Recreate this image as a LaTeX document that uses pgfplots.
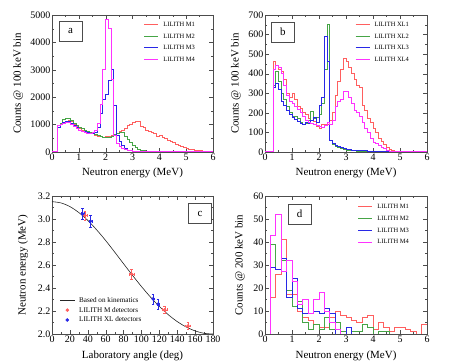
\documentclass[border=0pt]{standalone}
\usepackage{fontspec}
\setmainfont{Liberation Serif}
\usepackage{pgfplots}
\pgfplotsset{compat=1.18}

\definecolor{lilR}{RGB}{255,95,95}
\definecolor{lilG}{RGB}{70,165,70}
\definecolor{lilB}{RGB}{40,40,230}
\definecolor{lilP}{RGB}{255,50,255}

\tikzset{
  plabel/.style={draw=black!70, line width=0.8bp, minimum width=23bp, minimum height=20bp,
    inner sep=0pt, fill=white, font=\fontsize{11}{12}\selectfont},
}
\pgfplotsset{
  panel/.style={
    scale only axis, width=161bp, height=137bp,
    axis line style={draw=black!70}, tick style={black!70},
    tick align=inside, major tick length=4bp, minor tick length=2bp,
    minor x tick num=1, minor y tick num=1,
    tick label style={font=\fontsize{10}{12}\selectfont, inner sep=1.5bp},
    every axis label/.append style={font=\fontsize{11}{13}\selectfont},
    /pgf/number format/assume math mode=true,
    /pgf/number format/1000 sep={},
    xlabel style={at={(axis description cs:0.5,-0.155)}, anchor=center},
    legend cell align=left,
    legend image code/.code={\draw[#1,mark repeat=2,mark phase=2] plot coordinates {(0bp,0bp) (7bp,0bp) (14bp,0bp)};},
    legend style={draw=none, fill=none, inner sep=0pt, outer sep=0pt,
      font=\fontsize{6.5}{7}\selectfont, column sep=4.5bp, row sep=5bp,
      nodes={inner sep=0pt, text height=5.2bp, text depth=1.5bp}},
  },
  hist/.style={const plot mark left, no marks, line width=1bp},
}

\begin{document}
\begin{tikzpicture}
% ---------- a ----------
\begin{axis}[panel, at={(52bp,212bp)}, anchor=south west,
  xmin=0, xmax=6, ymin=0, ymax=5000, xtick distance=1, ytick distance=1000,
  xlabel={Neutron energy (MeV)}, ylabel={Counts @ 100 keV bin},
  ylabel style={at={(axis description cs:-0.21,0.5)}, anchor=center},
  legend style={at={(0.571,0.955)}, anchor=north west}]
\addplot[hist, draw=lilR] coordinates {(0,0)(0.2,950)(0.3,1000)(0.4,1080)(0.5,1130)(0.6,1150)(0.7,1100)(0.8,1000)(0.9,920)(1.0,860)(1.1,800)(1.2,760)(1.3,720)(1.4,690)(1.5,660)(1.6,620)(1.7,580)(1.8,550)(1.9,540)(2.0,560)(2.1,580)(2.2,610)(2.3,640)(2.4,680)(2.5,730)(2.6,800)(2.7,870)(2.8,950)(2.9,1000)(3.0,1080)(3.1,1100)(3.2,1110)(3.3,920)(3.4,900)(3.5,800)(3.6,750)(3.7,720)(3.8,680)(3.9,580)(4.0,590)(4.1,540)(4.2,500)(4.3,420)(4.4,380)(4.5,330)(4.6,280)(4.7,240)(4.8,200)(4.9,160)(5.0,130)(5.1,100)(5.2,80)(5.3,60)(5.4,50)(5.5,40)(5.6,30)(5.7,25)(5.8,20)(5.9,15)(6.0,15)};
\addlegendentry{LILITH M1}
\addplot[hist, draw=lilG] coordinates {(0,0)(0.2,900)(0.3,1050)(0.4,1180)(0.5,1240)(0.6,1230)(0.7,1150)(0.8,1050)(0.9,950)(1.0,890)(1.1,840)(1.2,800)(1.3,760)(1.4,720)(1.5,690)(1.6,650)(1.7,600)(1.8,560)(1.9,530)(2.0,520)(2.1,540)(2.2,580)(2.3,630)(2.4,680)(2.5,720)(2.6,700)(2.7,560)(2.8,450)(2.9,330)(3.0,220)(3.1,150)(3.2,100)(3.3,70)(3.4,50)(3.5,35)(3.6,25)(3.7,15)(3.8,10)(3.9,8)(4.0,5)(4.1,3)(4.2,2)(4.3,0)(6.0,0)};
\addlegendentry{LILITH M2}
\addplot[hist, draw=lilB] coordinates {(0,0)(0.2,880)(0.3,1000)(0.4,1080)(0.5,1120)(0.6,1100)(0.7,1050)(0.8,950)(0.9,880)(1.0,800)(1.1,760)(1.2,740)(1.3,720)(1.4,690)(1.5,680)(1.6,720)(1.7,900)(1.8,1400)(1.9,1900)(2.0,2100)(2.1,2600)(2.2,3000)(2.3,1700)(2.4,600)(2.5,380)(2.6,230)(2.7,130)(2.8,70)(2.9,40)(3.0,20)(3.1,12)(3.2,8)(3.3,5)(3.4,0)(6.0,0)};
\addlegendentry{LILITH M3}
\addplot[hist, draw=lilP] coordinates {(0,0)(0.2,950)(0.3,1000)(0.4,1050)(0.5,1080)(0.6,1060)(0.7,1000)(0.8,920)(0.9,850)(1.0,790)(1.1,740)(1.2,710)(1.3,690)(1.4,680)(1.5,720)(1.6,800)(1.7,1050)(1.8,1750)(1.9,3000)(2.0,4850)(2.1,4500)(2.2,2650)(2.3,600)(2.4,320)(2.5,200)(2.6,130)(2.7,90)(2.8,60)(2.9,40)(3.0,25)(3.1,15)(3.2,10)(3.3,0)(6.0,0)};
\addlegendentry{LILITH M4}
\node[plabel] at (rel axis cs:0.115,0.883) {a};
\end{axis}
% ---------- b ----------
\begin{axis}[panel, at={(265bp,212bp)}, anchor=south west, width=162bp,
  xmin=0, xmax=6, ymin=0, ymax=700, xtick distance=1, ytick distance=100,
  xlabel={Neutron energy (MeV)}, ylabel={Counts @ 100 keV bin},
  ylabel style={at={(axis description cs:-0.18,0.5)}, anchor=center},
  legend style={at={(0.556,0.955)}, anchor=north west}]
\addplot[hist, draw=lilR] coordinates {(0,0)(0.3,460)(0.4,440)(0.5,420)(0.6,410)(0.7,370)(0.8,300)(0.9,280)(1.0,300)(1.1,270)(1.2,230)(1.3,220)(1.4,200)(1.5,190)(1.6,170)(1.7,160)(1.8,155)(1.9,130)(2.0,120)(2.1,140)(2.2,140)(2.3,140)(2.4,160)(2.5,200)(2.6,290)(2.7,360)(2.8,420)(2.9,480)(3.0,460)(3.1,430)(3.2,400)(3.3,370)(3.4,340)(3.5,330)(3.6,240)(3.7,210)(3.8,170)(3.9,150)(4.0,120)(4.1,100)(4.2,70)(4.3,55)(4.4,40)(4.5,25)(4.6,15)(4.7,10)(4.8,5)(4.9,3)(5.0,0)(6.0,0)};
\addlegendentry{LILITH XL1}
\addplot[hist, draw=lilG] coordinates {(0,0)(0.3,340)(0.4,410)(0.5,360)(0.6,300)(0.7,270)(0.8,230)(0.9,200)(1.0,180)(1.1,180)(1.2,170)(1.3,150)(1.4,140)(1.5,145)(1.6,160)(1.7,205)(1.8,170)(1.9,175)(2.0,190)(2.1,250)(2.2,420)(2.3,650)(2.4,60)(2.5,40)(2.6,30)(2.7,25)(2.8,20)(2.9,15)(3.0,10)(3.2,8)(3.4,5)(3.6,3)(3.8,2)(4.0,0)(6.0,0)};
\addlegendentry{LILITH XL2}
\addplot[hist, draw=lilB] coordinates {(0,0)(0.3,330)(0.4,350)(0.5,320)(0.6,260)(0.7,240)(0.8,210)(0.9,190)(1.0,175)(1.1,165)(1.2,155)(1.3,145)(1.4,140)(1.5,150)(1.6,145)(1.7,160)(1.8,175)(1.9,150)(2.0,240)(2.1,280)(2.2,590)(2.3,460)(2.4,60)(2.5,45)(2.6,35)(2.7,28)(2.8,22)(2.9,18)(3.0,14)(3.2,10)(3.4,8)(3.6,6)(3.8,4)(4.0,3)(4.3,2)(4.6,0)(6.0,0)};
\addlegendentry{LILITH XL3}
\addplot[hist, draw=lilP] coordinates {(0,0)(0.3,420)(0.4,440)(0.5,430)(0.6,400)(0.7,340)(0.8,290)(0.9,260)(1.0,250)(1.1,230)(1.2,215)(1.3,200)(1.4,180)(1.5,160)(1.6,150)(1.7,145)(1.8,140)(1.9,135)(2.0,130)(2.1,125)(2.2,135)(2.3,150)(2.4,140)(2.5,160)(2.6,230)(2.7,260)(2.8,270)(2.9,310)(3.0,310)(3.1,280)(3.2,250)(3.3,210)(3.4,200)(3.5,180)(3.6,150)(3.7,120)(3.8,100)(3.9,70)(4.0,50)(4.1,45)(4.2,35)(4.3,25)(4.4,20)(4.5,10)(4.6,5)(4.7,0)(6.0,0)};
\addlegendentry{LILITH XL4}
\node[plabel] at (rel axis cs:0.111,0.876) {b};
\end{axis}
% ---------- c ----------
\begin{axis}[panel, at={(52bp,30bp)}, anchor=south west, height=138bp,
  xmin=0, xmax=180, ymin=2, ymax=3.2, xtick distance=20,
  ytick={2.0,2.2,2.4,2.6,2.8,3.0,3.2},
  yticklabel style={/pgf/number format/.cd, fixed, fixed zerofill, precision=1},
  xlabel={Laboratory angle (deg)}, ylabel={Neutron energy (MeV)},
  ylabel style={at={(axis description cs:-0.18,0.5)}, anchor=center},
  legend style={at={(0.05,0.075)}, anchor=south west, font=\fontsize{7.2}{8}\selectfont,
    row sep=2.6bp, nodes={inner sep=0pt, text height=5.6bp, text depth=1.7bp}}]
\addplot[black!85, line width=0.6bp, smooth] coordinates {(0,3.151)(10,3.140)(20,3.108)(30,3.056)(40,2.988)(50,2.905)(60,2.813)(70,2.713)(80,2.611)(90,2.510)(100,2.413)(110,2.322)(120,2.240)(130,2.168)(140,2.108)(150,2.061)(160,2.027)(170,2.006)(180,2.000)};
\addlegendentry{Based on kinematics}
\addplot[only marks, mark=*, mark size=1.4bp, lilR, line width=0.7bp,
  error bars/.cd, x dir=both, x explicit, y dir=both, y explicit]
  coordinates {(36.8,3.03) +- (3,0.04) (89,2.52) +- (3,0.04) (126,2.21) +- (3,0.03) (152,2.07) +- (3,0.03)};
\addlegendentry{LILITH M detectors}
\addplot[only marks, mark=*, mark size=1.4bp, lilB, line width=0.7bp,
  error bars/.cd, x dir=both, x explicit, y dir=both, y explicit]
  coordinates {(34.2,3.045) +- (1.5,0.05) (43.1,2.98) +- (1.5,0.05) (113,2.305) +- (1.5,0.045) (118.6,2.26) +- (1.5,0.04)};
\addlegendentry{LILITH XL detectors}
\node[plabel] at (rel axis cs:0.919,0.873) {c};
\end{axis}
% ---------- d ----------
\begin{axis}[panel, at={(265bp,30bp)}, anchor=south west, width=162bp, height=138bp,
  xmin=0, xmax=6, ymin=0, ymax=60, xtick distance=1, ytick distance=10,
  xlabel={Neutron energy (MeV)}, ylabel={Counts @ 200 keV bin},
  ylabel style={at={(axis description cs:-0.155,0.5)}, anchor=center},
  legend style={at={(0.574,0.945)}, anchor=north west}]
\addplot[hist, draw=lilR] coordinates {(0,0)(0.2,16)(0.4,26)(0.6,41)(0.8,17)(1.0,17)(1.2,10)(1.4,7)(1.6,6)(1.8,4)(2.0,3)(2.2,3)(2.4,7)(2.6,10)(2.8,8)(3.0,7)(3.2,6)(3.4,5)(3.6,7)(3.8,8)(4.0,2)(4.2,5)(4.4,3)(4.6,1)(4.8,3)(5.0,3)(5.2,2)(5.4,1)(5.6,0)(5.8,4)(6.0,4)};
\addlegendentry{LILITH M1}
\addplot[hist, draw=lilG] coordinates {(0,0)(0.2,39)(0.4,28)(0.6,32)(0.8,19)(1.0,12)(1.2,14)(1.4,5)(1.6,2)(1.8,4)(2.0,2)(2.2,7)(2.4,2)(2.6,5)(2.8,1)(3.0,3)(3.2,1)(3.4,1)(3.6,4)(3.8,3)(4.0,0)(4.2,1)(4.4,1)(4.6,0)(6.0,0)};
\addlegendentry{LILITH M2}
\addplot[hist, draw=lilB] coordinates {(0,0)(0.2,29)(0.4,28)(0.6,33)(0.8,16)(1.0,24)(1.2,11)(1.4,9)(1.6,9)(1.8,10)(2.0,9)(2.2,11)(2.4,9)(2.6,0)(3.0,3)(3.2,0)(6.0,0)};
\addlegendentry{LILITH M3}
\addplot[hist, draw=lilP] coordinates {(0,0)(0.2,43)(0.4,52)(0.6,27)(0.8,32)(1.0,23)(1.2,13)(1.4,15)(1.6,9)(1.8,15)(2.0,18)(2.2,10)(2.4,5)(2.6,2)(2.8,0)(6.0,0)};
\addlegendentry{LILITH M4}
\node[plabel] at (rel axis cs:0.213,0.87) {d};
\end{axis}
\pgfresetboundingbox
\path[use as bounding box] (0,0) rectangle (463bp,364bp);
\end{tikzpicture}
\end{document}
